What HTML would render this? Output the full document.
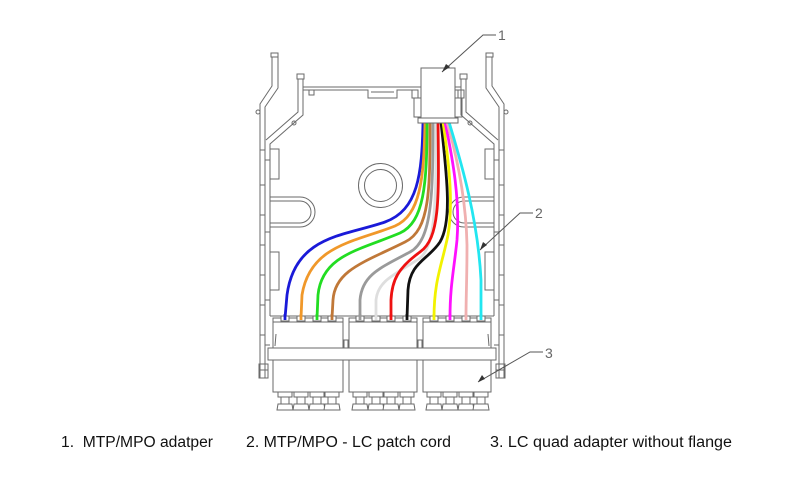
<!DOCTYPE html>
<html><head><meta charset="utf-8"><style>
html,body{margin:0;padding:0;background:#fff;}
svg{display:block;}
</style></head><body>
<svg width="794" height="479" viewBox="0 0 794 479" xmlns="http://www.w3.org/2000/svg">
<rect width="794" height="479" fill="#fff"/>
<defs>
<g id="half" fill="none" stroke="#6a6a6a" stroke-width="1">
  <rect x="271" y="53" width="7" height="4"/>
  <path d="M272,57 L272,86 L260,104 L260,378"/>
  <path d="M278,57 L278,88 L265,107 L265,378"/>
  <circle cx="258" cy="112" r="2"/>
  <rect x="297" y="74" width="7" height="5"/>
  <path d="M298,79 L298,112 L266,140"/>
  <path d="M303,79 L303,115 L270,144 L270,316"/>
  <circle cx="294" cy="123" r="2"/>
  <path d="M260,150 H265 M260,185 H265 M260,215 H265 M260,245 H265 M260,275 H265 M260,305 H265 M260,335 H265 M265,160 H270 M265,232 H270 M265,300 H270 M265,345 H270"/>
  <rect x="270" y="149" width="9" height="30"/>
  <rect x="270" y="252" width="9" height="38"/>
  <rect x="259" y="364" width="9" height="14"/>
  <path d="M259,370 H268"/>
  <path d="M270,197 L300,197 A15,15 0 0 1 300,227 L270,227"/>
  <path d="M270,201 L300,201 A11,11 0 0 1 300,223 L270,223"/>
</g>
</defs>
<use href="#half"/>
<use href="#half" transform="matrix(-1,0,0,1,764,0)"/>

<g fill="none" stroke="#6a6a6a" stroke-width="1">
  <path d="M303,87 L421,87"/>
  <path d="M303,90 L368,90 L368,98 L397,98 L397,90 L412,90"/>
  <path d="M371,92 H394"/>
  <rect x="309" y="90" width="5" height="5"/>
  <path d="M455,87 L461,87 M455,90 L461,90"/>
  <rect x="412" y="90" width="6" height="8"/>
  <rect x="414" y="98" width="7" height="19"/>
  <rect x="458" y="90" width="6" height="8"/>
  <rect x="455" y="98" width="7" height="19"/>
  <circle cx="380.5" cy="185.5" r="22"/>
  <circle cx="380.5" cy="185.5" r="16"/>
</g>

<!-- fibers -->
<g fill="none" stroke-width="2.8" stroke-linecap="round">
  <path stroke="#1a1ad8" d="M423,122 C422,175 418,210 385,222 C345,236 295,235 287,295 L285,318"/>
  <path stroke="#f0982a" d="M425,122 C424,180 420,215 395,226 C355,242 310,245 302,295 L301,318"/>
  <path stroke="#22dd22" d="M427,122 C427,185 424,222 400,233 C360,250 322,255 318,295 L317,318"/>
  <path stroke="#c07838" d="M430,122 C430,190 430,230 405,242 C365,262 335,270 333,300 L332,318"/>
  <path stroke="#9a9a9a" d="M433,122 C433,195 432,240 410,252 C380,268 362,275 360,300 L360,318"/>
  <path stroke="#dedede" d="M436,122 C436,200 436,245 420,258 C395,275 378,280 376,300 L376,318"/>
  <path stroke="#ee1111" d="M438,122 C439,200 440,238 420,252 C398,268 392,280 391,300 L391,318"/>
  <path stroke="#111111" d="M441,122 C446,170 453,220 440,242 C428,260 410,262 408,290 L407,318"/>
  <path stroke="#f2f200" d="M443,122 C450,170 453,205 448,235 C442,265 434,280 434,318"/>
  <path stroke="#ff10ff" d="M445,122 C453,160 460,200 457,240 C454,270 450,285 450,318"/>
  <path stroke="#f0b0b0" d="M447,122 C458,160 466,200 467,245 C467,280 466,295 466,318"/>
  <path stroke="#22e6f0" d="M449,122 C462,165 478,220 481,280 L481,318"/>
</g>

<!-- connector -->
<g fill="#fff" stroke="#6a6a6a" stroke-width="1">
  <rect x="421" y="68" width="34" height="51"/>
  <rect x="418" y="118" width="40" height="5"/>
</g>

<!-- bottom adapters -->
<g fill="none" stroke="#6a6a6a" stroke-width="1">
  <path d="M270,316 H494"/>
  <rect x="273" y="318" width="70" height="30" fill="#fff"/>
  <rect x="349" y="318" width="68" height="30" fill="#fff"/>
  <rect x="423" y="318" width="68" height="30" fill="#fff"/>
  <path d="M273,322 H343 M349,322 H417 M423,322 H491"/>
  <path d="M343,340 H349 M344,340 V348 M348,340 V348 M417,340 H423 M418,340 V348 M422,340 V348"/>
  <path d="M276,334 L275,346 M488,334 L489,346"/>
  <rect x="268" y="348" width="228" height="12" fill="#fff"/>
  <rect x="273" y="360" width="70" height="32" fill="#fff"/>
  <rect x="349" y="360" width="68" height="32" fill="#fff"/>
  <rect x="423" y="360" width="68" height="32" fill="#fff"/>
</g>
<g fill="#fff" stroke="#6a6a6a" stroke-width="1">
  <rect x="281" y="316" width="8" height="5"/><rect x="297" y="316" width="8" height="5"/><rect x="313" y="316" width="8" height="5"/><rect x="328" y="316" width="8" height="5"/>
  <rect x="356" y="316" width="8" height="5"/><rect x="372" y="316" width="8" height="5"/><rect x="387" y="316" width="8" height="5"/><rect x="403" y="316" width="8" height="5"/>
  <rect x="430" y="316" width="8" height="5"/><rect x="446" y="316" width="8" height="5"/><rect x="462" y="316" width="8" height="5"/><rect x="477" y="316" width="8" height="5"/>
</g>
<g stroke-width="2.8" stroke-linecap="butt">
  <path stroke="#1a1ad8" d="M285,314 V320"/><path stroke="#f0982a" d="M301,314 V320"/><path stroke="#22dd22" d="M317,314 V320"/><path stroke="#c07838" d="M332,314 V320"/>
  <path stroke="#9a9a9a" d="M360,314 V320"/><path stroke="#dedede" d="M376,314 V320"/><path stroke="#ee1111" d="M391,314 V320"/><path stroke="#111" d="M407,314 V320"/>
  <path stroke="#f2f200" d="M434,314 V320"/><path stroke="#ff10ff" d="M450,314 V320"/><path stroke="#f0b0b0" d="M466,314 V320"/><path stroke="#22e6f0" d="M481,314 V320"/>
</g>
<g fill="#fff" stroke="#6a6a6a" stroke-width="1">
  <g transform="translate(285,0)"><rect x="-7" y="392" width="14" height="5"/><rect x="-4" y="397" width="8" height="7"/><path d="M-7,404 H7 L8,410 H-8 Z"/></g>
  <g transform="translate(301,0)"><rect x="-7" y="392" width="14" height="5"/><rect x="-4" y="397" width="8" height="7"/><path d="M-7,404 H7 L8,410 H-8 Z"/></g>
  <g transform="translate(317,0)"><rect x="-7" y="392" width="14" height="5"/><rect x="-4" y="397" width="8" height="7"/><path d="M-7,404 H7 L8,410 H-8 Z"/></g>
  <g transform="translate(332,0)"><rect x="-7" y="392" width="14" height="5"/><rect x="-4" y="397" width="8" height="7"/><path d="M-7,404 H7 L8,410 H-8 Z"/></g>
  <g transform="translate(360,0)"><rect x="-7" y="392" width="14" height="5"/><rect x="-4" y="397" width="8" height="7"/><path d="M-7,404 H7 L8,410 H-8 Z"/></g>
  <g transform="translate(376,0)"><rect x="-7" y="392" width="14" height="5"/><rect x="-4" y="397" width="8" height="7"/><path d="M-7,404 H7 L8,410 H-8 Z"/></g>
  <g transform="translate(391,0)"><rect x="-7" y="392" width="14" height="5"/><rect x="-4" y="397" width="8" height="7"/><path d="M-7,404 H7 L8,410 H-8 Z"/></g>
  <g transform="translate(407,0)"><rect x="-7" y="392" width="14" height="5"/><rect x="-4" y="397" width="8" height="7"/><path d="M-7,404 H7 L8,410 H-8 Z"/></g>
  <g transform="translate(434,0)"><rect x="-7" y="392" width="14" height="5"/><rect x="-4" y="397" width="8" height="7"/><path d="M-7,404 H7 L8,410 H-8 Z"/></g>
  <g transform="translate(450,0)"><rect x="-7" y="392" width="14" height="5"/><rect x="-4" y="397" width="8" height="7"/><path d="M-7,404 H7 L8,410 H-8 Z"/></g>
  <g transform="translate(466,0)"><rect x="-7" y="392" width="14" height="5"/><rect x="-4" y="397" width="8" height="7"/><path d="M-7,404 H7 L8,410 H-8 Z"/></g>
  <g transform="translate(481,0)"><rect x="-7" y="392" width="14" height="5"/><rect x="-4" y="397" width="8" height="7"/><path d="M-7,404 H7 L8,410 H-8 Z"/></g>
</g>

<!-- leaders -->
<g stroke="#555" stroke-width="1" fill="none">
  <path d="M442,72 L483,35 H496"/>
  <path d="M480,250 L520,213 H533"/>
  <path d="M478,382 L530,352 H543"/>
</g>
<g fill="#333">
  <polygon points="442,72 446,64 450,67"/>
  <polygon points="480,250 483,242 487,245"/>
  <polygon points="478,382 482,375 485,379"/>
</g>
<g font-family="'Liberation Sans', sans-serif" font-size="14" fill="#666">
  <text x="498" y="40">1</text>
  <text x="535" y="218">2</text>
  <text x="545" y="358">3</text>
</g>

<g font-family="'Liberation Sans', Arial, sans-serif" font-size="15.5" fill="#111">
  <text x="61" y="447" textLength="152" lengthAdjust="spacingAndGlyphs" xml:space="preserve">1.  MTP/MPO adatper</text>
  <text x="246" y="447" textLength="205" lengthAdjust="spacingAndGlyphs">2. MTP/MPO - LC patch cord</text>
  <text x="490" y="447" textLength="242" lengthAdjust="spacingAndGlyphs">3. LC quad adapter without flange</text>
</g>
</svg>
</body></html>
